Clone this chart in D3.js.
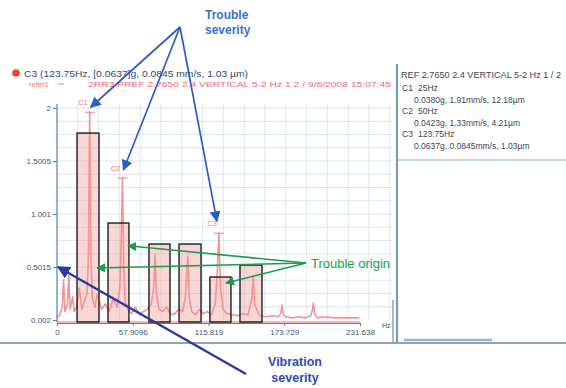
<!DOCTYPE html>
<html>
<head>
<meta charset="utf-8">
<script src="https://cdn.jsdelivr.net/npm/d3@7"></script>
<style>
  html, body { margin: 0; padding: 0; background: #fff; }
  svg { display: block; font-family: "Liberation Sans", Arial, sans-serif; }
</style>
</head>
<body>
<svg id="chart" width="566" height="388"></svg>
<script>
// ---- data ----
const yTickValues = [0.002, 0.5015, 1.001, 1.5005, 2];
const yTickLabels = ["0.002", "0.5015", "1.001", "1.5005", "2"];
const xTickValues = [0, 57.9096, 115.819, 173.729, 231.638];
const xTickLabels = ["0", "57.9096", "115.819", "173.729", "231.638"];

// frequency bands (Hz) and their overall level
const bandLow   = [15.3, 39.0, 70.3, 93.3, 116.9, 139.9];
const bandHigh  = [32.1, 55.0, 86.4, 110.1, 133.0, 156.7];
const bandLevel = [1.764, 0.916, 0.718, 0.718, 0.407, 0.520];

// spectrum (Hz, amplitude)
const specHz  = [0, 2, 4, 5, 6, 8, 9, 10, 12, 13, 15, 17, 19, 21, 23, 24, 25, 26, 27, 29, 31, 34, 37, 40, 43, 46, 48, 49, 50, 51, 52, 54, 57, 60, 63, 66, 69, 72, 74, 75, 76, 78, 81, 84, 87, 90, 93, 96, 98, 99, 100, 101, 103, 106, 109, 112, 115, 118, 121, 122.5, 123.75, 125, 127, 130, 134, 138, 142, 146, 149, 150, 151, 155, 160, 165, 169, 171, 172, 173, 175, 180, 185, 190, 194, 195, 196, 197, 199, 205, 212, 220, 231];
const specAmp = [0.02, 0.05, 0.12, 0.38, 0.08, 0.15, 0.42, 0.1, 0.22, 0.08, 0.12, 0.3, 0.1, 0.18, 0.25, 0.6, 1.96, 0.55, 0.2, 0.12, 0.25, 0.1, 0.15, 0.08, 0.2, 0.12, 0.3, 0.7, 1.34, 0.5, 0.18, 0.1, 0.06, 0.12, 0.05, 0.08, 0.1, 0.15, 0.3, 0.62, 0.25, 0.1, 0.08, 0.12, 0.05, 0.06, 0.1, 0.08, 0.2, 0.4, 0.6, 0.22, 0.08, 0.05, 0.1, 0.06, 0.08, 0.05, 0.15, 0.45, 0.82, 0.3, 0.1, 0.06, 0.05, 0.04, 0.06, 0.05, 0.2, 0.42, 0.15, 0.04, 0.03, 0.04, 0.03, 0.06, 0.14, 0.05, 0.03, 0.02, 0.03, 0.02, 0.04, 0.08, 0.16, 0.06, 0.02, 0.03, 0.02, 0.02, 0.02];

// cursors
const cursorNames = ["C1", "C2", "C3"];
const cursorHz    = [25, 50, 123.75];
const cursorAmp   = [1.96, 1.34, 0.82];

const legendLine1 = "C3 (123.75Hz, [0.0637]g, 0.0845 mm/s, 1.03 \u00b5m)";
const legendRef = "refer1";
const legendLine2 = "2RR3 PREF 2.7650 2.4 VERTICAL 5-2 Hz 1 2 / 9/6/2008 15:07:45";
const panelHeader = "REF 2.7650 2.4 VERTICAL 5-2 Hz 1 / 2";
const panelNames  = ["C1", "C2", "C3"];
const panelFreqs  = ["25Hz", "50Hz", "123.75Hz"];
const panelValues = [
  "0.0380g, 1.91mm/s, 12.18\u00b5m",
  "0.0423g, 1.33mm/s, 4.21\u00b5m",
  "0.0637g, 0.0845mm/s, 1.03\u00b5m"
];

// ---- drawing ----
const svg = d3.select("#chart");
const x = d3.scaleLinear().domain([0, 231.638]).range([57, 360]);
const y = d3.scaleLinear().domain([0.002, 2]).range([320, 108]);

const defs = svg.append("defs");
function marker(id, color, size) {
  defs.append("marker").attr("id", id)
    .attr("viewBox", "0 0 10 10").attr("refX", 9).attr("refY", 5)
    .attr("markerWidth", size).attr("markerHeight", size)
    .attr("markerUnits", "userSpaceOnUse")
    .attr("orient", "auto")
    .append("path").attr("d", "M0,0 L10,5 L0,10 Z").attr("fill", color);
}
marker("arrBlue", "#2f5cc4", 11);
marker("arrNavy", "#2b3a9c", 13);
marker("arrGreen", "#1e9a4a", 9);

// grid
const grid = svg.append("g");
const gx = d3.range(16).map(i => 57 + (i + 1) * 20.8);
const gy = d3.range(16).map(i => 108 + i * 13.25);
grid.selectAll("line.v").data(gx).join("line")
  .attr("x1", d => d).attr("x2", d => d).attr("y1", 104).attr("y2", 320)
  .attr("stroke", "#d3e2ef").attr("stroke-width", 0.8);
grid.selectAll("line.h").data(gy).join("line")
  .attr("x1", 57).attr("x2", 392).attr("y1", d => d).attr("y2", d => d)
  .attr("stroke", "#d3e2ef").attr("stroke-width", 0.8);

// band bars
svg.append("g").selectAll("rect").data(bandLevel).join("rect")
  .attr("x", (d, i) => x(bandLow[i]))
  .attr("width", (d, i) => x(bandHigh[i]) - x(bandLow[i]))
  .attr("y", d => y(d))
  .attr("height", d => y(0.002) - y(d) + 2)
  .attr("fill", "rgba(240,150,150,0.38)");

// spectrum
const spec = specHz.map((h, i) => [h, specAmp[i]]);
svg.append("path").datum(spec)
  .attr("d", d3.line().x(d => x(d[0])).y(d => y(d[1] + 0.002)))
  .attr("fill", "none").attr("stroke", "#f29494").attr("stroke-width", 1.6)
  .attr("stroke-linejoin", "round");
svg.append("line").attr("x1", x(0)).attr("x2", x(231.638))
  .attr("y1", 322).attr("y2", 322).attr("stroke", "#ef7070").attr("stroke-width", 1.2);

// cursor markers
const cur = svg.append("g");
cursorHz.forEach((h, i) => {
  cur.append("line").attr("x1", x(h) - 5).attr("x2", x(h) + 5)
    .attr("y1", y(cursorAmp[i])).attr("y2", y(cursorAmp[i]))
    .attr("stroke", "#ef8080").attr("stroke-width", 1);
  cur.append("text").attr("x", x(h) - 2).attr("y", y(cursorAmp[i]) - 7)
    .attr("text-anchor", "end").attr("font-size", 7.5).attr("fill", "#f07878")
    .text(cursorNames[i]);
});

// bar outlines
svg.append("g").selectAll("rect").data(bandLevel).join("rect")
  .attr("x", (d, i) => x(bandLow[i]))
  .attr("width", (d, i) => x(bandHigh[i]) - x(bandLow[i]))
  .attr("y", d => y(d))
  .attr("height", d => y(0.002) - y(d) + 2)
  .attr("fill", "none").attr("stroke", "#1e1e1e").attr("stroke-width", 1.4);

// axes
const axisColor = "#4a84b2";
const yAxis = svg.append("g").attr("transform", "translate(57,0)")
  .call(d3.axisLeft(y).tickValues(yTickValues).tickSize(4)
    .tickFormat((d, i) => yTickLabels[i]));
yAxis.select(".domain").attr("d", "M-0,104 V322").attr("stroke", axisColor).attr("stroke-width", 1.2);
yAxis.selectAll(".tick line").attr("stroke", axisColor);
yAxis.selectAll(".tick text").attr("fill", "#3c5670").attr("font-size", 8).attr("x", -6);

const xAxis = svg.append("g").attr("transform", "translate(0,323)")
  .call(d3.axisBottom(x).tickValues(xTickValues).tickSize(3)
    .tickFormat((d, i) => xTickLabels[i]));
xAxis.select(".domain").attr("stroke", axisColor).attr("stroke-width", 1);
xAxis.selectAll(".tick line").attr("stroke", axisColor);
xAxis.selectAll(".tick text").attr("fill", "#3c5670").attr("font-size", 8).attr("y", 6);
svg.append("text").attr("x", 382).attr("y", 328).attr("font-size", 7)
  .attr("fill", "#3c5670").text("Hz");

// legend lines
svg.append("circle").attr("cx", 16).attr("cy", 73).attr("r", 3.8).attr("fill", "#e8452e");
svg.append("text").attr("x", 24).attr("y", 76.5).attr("font-size", 9)
  .attr("fill", "#35477a").attr("textLength", 224).attr("lengthAdjust", "spacingAndGlyphs")
  .text(legendLine1);
svg.append("text").attr("x", 29).attr("y", 87).attr("font-size", 7.5)
  .attr("fill", "#ee7a8a").text(legendRef);
svg.append("line").attr("x1", 58).attr("x2", 64).attr("y1", 84).attr("y2", 84)
  .attr("stroke", "#ee7a8a").attr("stroke-width", 1);
svg.append("text").attr("x", 88).attr("y", 87).attr("font-size", 8)
  .attr("fill", "#ee6a7a").attr("textLength", 303).attr("lengthAdjust", "spacingAndGlyphs")
  .text(legendLine2);

// annotation text behind the side panel
svg.append("text").attr("x", 311).attr("y", 268).attr("font-size", 13)
  .attr("fill", "#22a04e").text("Trouble origin");

// side panel
svg.append("rect").attr("x", 398).attr("y", 64).attr("width", 168).attr("height", 278).attr("fill", "#fff");
svg.append("line").attr("x1", 397).attr("x2", 397).attr("y1", 64).attr("y2", 343)
  .attr("stroke", "#7c9bb0").attr("stroke-width", 2.2);
svg.append("line").attr("x1", 398).attr("x2", 566).attr("y1", 160).attr("y2", 160)
  .attr("stroke", "#8fb6d6").attr("stroke-width", 1);
svg.append("line").attr("x1", 0).attr("x2", 566).attr("y1", 343).attr("y2", 343)
  .attr("stroke", "#8aa6b8").attr("stroke-width", 2);
svg.append("line").attr("x1", 404).attr("x2", 492).attr("y1", 340).attr("y2", 340)
  .attr("stroke", "#9fb4c2").attr("stroke-width", 2.5);
svg.append("line").attr("x1", 393).attr("x2", 393).attr("y1", 300).attr("y2", 343)
  .attr("stroke", "#8aa6b8").attr("stroke-width", 1.5);

const panel = svg.append("g").attr("font-size", 8.5).attr("fill", "#3a4658");
panel.append("text").attr("x", 401).attr("y", 78)
  .attr("textLength", 160).attr("lengthAdjust", "spacingAndGlyphs").text(panelHeader);
const rowY = [91, 114, 137];
panel.selectAll("text.name").data(panelNames).join("text").attr("class", "name")
  .attr("x", 402).attr("y", (d, i) => rowY[i]).text(d => d);
panel.selectAll("text.freq").data(panelFreqs).join("text").attr("class", "freq")
  .attr("x", 418).attr("y", (d, i) => rowY[i]).text(d => d);
panel.selectAll("text.val").data(panelValues).join("text").attr("class", "val")
  .attr("x", 414).attr("y", (d, i) => rowY[i] + 12).text(d => d);

// "Trouble severity" arrows
const sevOrigin = [180, 27];
const sevTargets = [[x(cursorHz[0]) + 1, y(cursorAmp[0]) - 5],
                    [x(cursorHz[1]) + 1, y(cursorAmp[1]) - 8],
                    [x(cursorHz[2]) - 2, y(cursorAmp[2]) - 12]];
svg.append("g").selectAll("line").data(sevTargets).join("line")
  .attr("x1", sevOrigin[0]).attr("y1", sevOrigin[1])
  .attr("x2", d => d[0]).attr("y2", d => d[1])
  .attr("stroke", "#2f5cc4").attr("stroke-width", 1.7)
  .attr("marker-end", "url(#arrBlue)");
svg.append("text").attr("x", 205).attr("y", 19).attr("font-size", 12).attr("font-weight", "bold")
  .attr("fill", "#3b6fd4").text("Trouble");
svg.append("text").attr("x", 205).attr("y", 34).attr("font-size", 12).attr("font-weight", "bold")
  .attr("fill", "#3b6fd4").text("severity");

// "Trouble origin" arrows
const origin = [306, 263];
const originTargets = [[x(bandLow[0]) + 20, y(0.5015) + 1],
                       [x(bandLow[1]) + 20, y(0.918) + 23],
                       [x(bandLow[4]) + 16, y(0.407) + 6]];
svg.append("g").selectAll("line").data(originTargets).join("line")
  .attr("x1", origin[0]).attr("y1", origin[1])
  .attr("x2", d => d[0]).attr("y2", d => d[1])
  .attr("stroke", "#1e9a4a").attr("stroke-width", 1.6)
  .attr("marker-end", "url(#arrGreen)");

// "Vibration severity" arrow
svg.append("line").attr("x1", 246).attr("y1", 374).attr("x2", 58).attr("y2", 267)
  .attr("stroke", "#2b3a9c").attr("stroke-width", 2.4)
  .attr("marker-end", "url(#arrNavy)");
svg.append("text").attr("x", 295).attr("y", 366).attr("text-anchor", "middle")
  .attr("font-size", 12.5).attr("font-weight", "bold").attr("fill", "#2d4db8").text("Vibration");
svg.append("text").attr("x", 295).attr("y", 382).attr("text-anchor", "middle")
  .attr("font-size", 12.5).attr("font-weight", "bold").attr("fill", "#2d4db8").text("severity");
</script>
</body>
</html>
